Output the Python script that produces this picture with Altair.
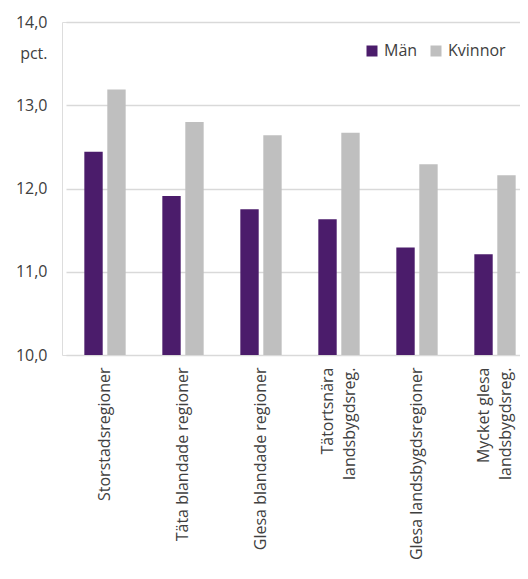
import altair as alt
import pandas as pd

categories = [
    "Storstadsregioner",
    "Täta blandade regioner",
    "Glesa blandade regioner",
    "Tätortsnära|landsbygdsreg.",
    "Glesa landsbygdsregioner",
    "Mycket glesa|landsbygdsreg.",
]
man = [12.44, 11.91, 11.75, 11.63, 11.29, 11.21]
kvinnor = [13.19, 12.80, 12.64, 12.67, 12.29, 12.16]
series = ["Män", "Kvinnor"]
colors = ["#4B1C6B", "#BFBFBF"]
y_ticks = [10, 11, 12, 13, 14]

rows = []
for c, m, k in zip(categories, man, kvinnor):
    rows.append({"kat": c, "kon": "Män", "v": m})
    rows.append({"kat": c, "kon": "Kvinnor", "v": k})
df = pd.DataFrame(rows)

FONT = "Open Sans"
TXT = "#404040"

chart = (
    alt.Chart(df)
    .mark_bar()
    .encode(
        x=alt.X(
            "kat:N",
            sort=categories,
            scale=alt.Scale(range=[4, 472], paddingInner=0.47, paddingOuter=0.235),
            axis=alt.Axis(
                title=None,
                labelAngle=-90,
                labelAlign="right",
                labelBaseline="middle",
                labelExpr="split(datum.label, '|')",
                labelLineHeight=22,
                labelOffset={
                    "condition": {"test": "indexof(datum.value, '|') >= 0", "value": -11},
                    "value": 0,
                },
                labelFont=FONT,
                labelFontSize=16,
                labelColor=TXT,
                labelPadding=12,
                ticks=False,
                domain=False,
                labelLimit=400,
            ),
        ),
        xOffset=alt.XOffset("kon:N", sort=series, scale=alt.Scale(paddingInner=0.2)),
        y=alt.Y(
            "v:Q",
            scale=alt.Scale(domain=[10, 14], nice=False, zero=False),
            axis=alt.Axis(
                values=y_ticks,
                labelExpr="replace(format(datum.value, '.1f'), '.', ',')",
                title="pct.",
                titleAngle=0,
                titleAlign="right",
                titleBaseline="middle",
                titleX=-15,
                titleY=31,
                titleFont=FONT,
                titleFontSize=16,
                titleFontWeight="normal",
                titleColor=TXT,
                labelFont=FONT,
                labelFontSize=16,
                labelColor=TXT,
                labelPadding=15,
                ticks=False,
                domain=False,
                gridColor="#D9D9D9",
                gridWidth=1.5,
            ),
        ),
        y2=alt.datum(10),
        color=alt.Color(
            "kon:N",
            sort=series,
            scale=alt.Scale(domain=series, range=colors),
            legend=alt.Legend(
                title=None,
                orient="none",
                direction="horizontal",
                legendX=302,
                legendY=21,
                symbolType="square",
                symbolSize=121,
                symbolStrokeWidth=0,
                labelFont=FONT,
                labelFontSize=16,
                labelColor=TXT,
                columnPadding=10,
                labelOffset=4,
            ),
        ),
    )
    .properties(
        width=458,
        height=333,
        autosize=alt.AutoSizeParams(type="none"),
        padding={"left": 54, "top": 14, "right": 0, "bottom": 207},
    )
    .configure_view(stroke=None)
    .configure(background="white")
)

chart.save("out.html", embed_options={"renderer": "svg", "actions": False})
